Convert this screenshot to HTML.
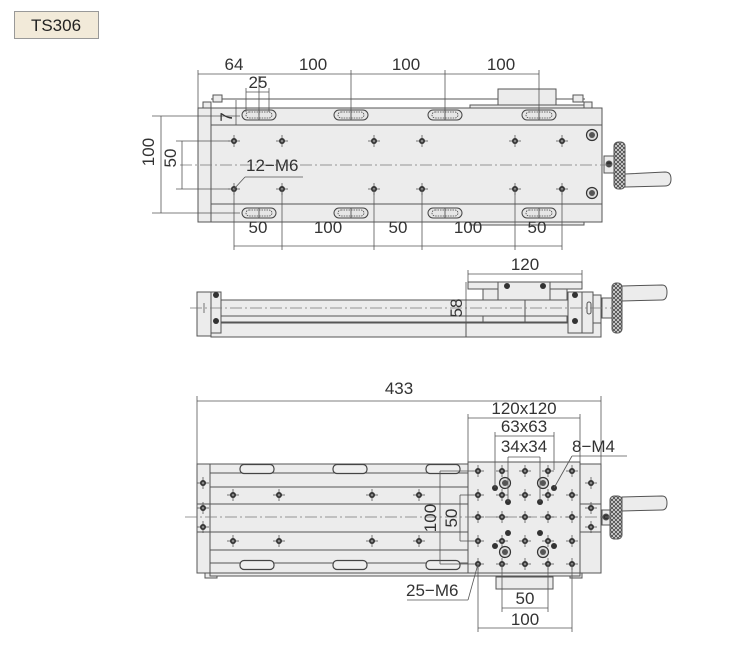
<!DOCTYPE html>
<html><head><meta charset="utf-8"><style>
html,body{margin:0;padding:0;background:#fff;}
svg{display:block;}
text{font-family:"Liberation Sans",sans-serif;fill:#333;font-size:17px;}
</style></head><body>
<svg width="754" height="649" viewBox="0 0 754 649" xmlns="http://www.w3.org/2000/svg">
<defs>
<g id="h"><line x1="-6" y1="0" x2="6" y2="0" stroke="#555" stroke-width="0.8"/><line x1="0" y1="-6" x2="0" y2="6" stroke="#555" stroke-width="0.8"/><circle r="3" fill="#333"/><circle r="1.3" fill="#888"/></g>
<g id="m4"><circle r="3" fill="#333"/></g>
<g id="bh"><circle r="5.5" fill="#ddd" stroke="#333" stroke-width="1.2"/><circle r="3" fill="#555"/></g>
<g id="slot"><rect x="-17" y="-5" width="34" height="10" rx="5" fill="#e6e6e6" stroke="#444" stroke-width="1"/><rect x="-13" y="-3" width="26" height="6" rx="3" fill="none" stroke="#444" stroke-width="0.8" stroke-dasharray="1.5 1"/><line x1="0" y1="-5" x2="0" y2="5" stroke="#444" stroke-width="0.8"/></g>
<g id="slot2"><rect x="-17" y="-4.5" width="34" height="9" rx="4" fill="#eee" stroke="#444" stroke-width="1.2"/></g>
<pattern id="knurl" width="4" height="4" patternUnits="userSpaceOnUse"><rect width="4" height="4" fill="#ddd"/><path d="M0 0L4 4M4 0L0 4" stroke="#444" stroke-width="0.8"/></pattern>
</defs>

<rect x="14.5" y="11.5" width="84" height="27" fill="#f2ead9" stroke="#999"/>
<text x="56" y="31" text-anchor="middle" font-size="16" style="fill:#222">TS306</text>

<g stroke="#555" stroke-width="1" fill="#ececec">
<line x1="211" y1="99" x2="585" y2="99"/>
<rect x="213" y="95" width="9" height="7"/>
<rect x="573" y="95" width="10" height="7"/>
<rect x="203" y="102" width="8" height="6"/>
<rect x="584" y="102" width="8" height="6"/>
<rect x="498" y="89" width="58" height="16"/>
<rect x="470" y="105" width="114" height="3"/>
<rect x="470" y="222" width="114" height="3"/>
<rect x="198" y="108" width="404" height="114"/>
<line x1="211" y1="108" x2="211" y2="222"/>
<line x1="211" y1="125" x2="602" y2="125"/>
<line x1="211" y1="204" x2="602" y2="204"/>
<rect x="604" y="156" width="10" height="17"/>
<circle cx="609" cy="164" r="3" fill="#333"/>
<path d="M625 174 L665 172 Q671 172 671 179 Q671 186 665 186 L625 187 Z"/>
<rect x="614" y="142" width="11" height="47" rx="4" fill="url(#knurl)"/>
</g>
<line x1="180" y1="165" x2="612" y2="165" stroke="#777" stroke-width="0.8" stroke-dasharray="12 3 2 3"/>
<g>
<use href="#slot" x="259" y="115"/><use href="#slot" x="351" y="115"/><use href="#slot" x="445" y="115"/><use href="#slot" x="539" y="115"/>
<use href="#slot" x="259" y="213"/><use href="#slot" x="351" y="213"/><use href="#slot" x="445" y="213"/><use href="#slot" x="539" y="213"/>
<use href="#h" x="234" y="141"/><use href="#h" x="282" y="141"/><use href="#h" x="374" y="141"/><use href="#h" x="422" y="141"/><use href="#h" x="515" y="141"/><use href="#h" x="562" y="141"/>
<use href="#h" x="234" y="189"/><use href="#h" x="282" y="189"/><use href="#h" x="374" y="189"/><use href="#h" x="422" y="189"/><use href="#h" x="515" y="189"/><use href="#h" x="562" y="189"/>
<use href="#bh" x="592" y="135"/><use href="#bh" x="592" y="193"/>
</g>
<g stroke="#555" stroke-width="0.8" fill="none">
<line x1="198" y1="74" x2="539" y2="74"/>
<line x1="198" y1="70" x2="198" y2="108"/>
<line x1="351" y1="70" x2="351" y2="120"/>
<line x1="445" y1="70" x2="445" y2="120"/>
<line x1="539" y1="70" x2="539" y2="120"/>
<line x1="246" y1="92" x2="269" y2="92"/>
<line x1="246" y1="88" x2="246" y2="112"/>
<line x1="269" y1="88" x2="269" y2="112"/>
<line x1="259" y1="76" x2="259" y2="115"/>
<line x1="236" y1="100" x2="236" y2="125"/>
<line x1="161" y1="116" x2="161" y2="213"/>
<line x1="152" y1="116" x2="240" y2="116"/>
<line x1="152" y1="213" x2="240" y2="213"/>
<line x1="182" y1="141" x2="182" y2="189"/>
<line x1="176" y1="141" x2="230" y2="141"/>
<line x1="176" y1="189" x2="230" y2="189"/>
<line x1="245" y1="177" x2="303" y2="177"/>
<line x1="245" y1="177" x2="234" y2="189"/>
<line x1="234" y1="189" x2="234" y2="250"/>
<line x1="282" y1="189" x2="282" y2="250"/>
<line x1="374" y1="189" x2="374" y2="250"/>
<line x1="422" y1="189" x2="422" y2="250"/>
<line x1="515" y1="189" x2="515" y2="250"/>
<line x1="562" y1="189" x2="562" y2="250"/>
<line x1="234" y1="246" x2="562" y2="246"/>
</g>
<text x="234" y="70" text-anchor="middle">64</text>
<text x="313" y="70" text-anchor="middle">100</text>
<text x="406" y="70" text-anchor="middle">100</text>
<text x="501" y="70" text-anchor="middle">100</text>
<text x="258" y="88" text-anchor="middle">25</text>
<text transform="translate(232,117) rotate(-90)" text-anchor="middle">7</text>
<text transform="translate(154,152) rotate(-90)" text-anchor="middle">100</text>
<text transform="translate(176,158) rotate(-90)" text-anchor="middle">50</text>
<text x="246" y="171">12−M6</text>
<text x="258" y="233" text-anchor="middle">50</text>
<text x="328" y="233" text-anchor="middle">100</text>
<text x="398" y="233" text-anchor="middle">50</text>
<text x="468" y="233" text-anchor="middle">100</text>
<text x="537" y="233" text-anchor="middle">50</text>

<g stroke="#555" stroke-width="1" fill="#ececec">
<rect x="197" y="292" width="14" height="44"/>
<rect x="211" y="323" width="390" height="14"/>
<line x1="466" y1="323" x2="466" y2="337"/>
<rect x="211" y="292" width="10" height="41"/>
<rect x="221" y="300" width="347" height="22"/>
<line x1="221" y1="316" x2="568" y2="316"/>
<rect x="483" y="289" width="84" height="11"/>
<rect x="483" y="316" width="84" height="6"/>
<rect x="498" y="282" width="52" height="18"/>
<line x1="525" y1="282" x2="525" y2="322"/>
<rect x="468" y="282" width="114" height="7"/>
<rect x="498" y="282" width="52" height="18"/>
<rect x="568" y="292" width="14" height="41"/>
<rect x="582" y="292" width="11" height="41"/>
<rect x="593" y="295" width="8" height="28"/>
<rect x="587" y="302" width="4" height="12" rx="2"/>
<rect x="602" y="298" width="10" height="20"/>
<path d="M622 286 L662 285 Q667 285 667 292 Q667 300 662 300 L622 301 Z"/>
<rect x="612" y="283" width="10" height="50" rx="4" fill="url(#knurl)"/>
</g>
<line x1="190" y1="308" x2="612" y2="308" stroke="#777" stroke-width="0.8" stroke-dasharray="12 3 2 3"/>
<line x1="204" y1="303" x2="204" y2="313" stroke="#555" stroke-width="0.8"/>
<use href="#m4" x="216" y="295"/><use href="#m4" x="216" y="321"/>
<use href="#m4" x="575" y="295"/><use href="#m4" x="575" y="321"/>
<use href="#m4" x="507" y="286"/><use href="#m4" x="543" y="286"/>
<g stroke="#555" stroke-width="0.8">
<line x1="468" y1="274" x2="582" y2="274"/>
<line x1="468" y1="270" x2="468" y2="282"/>
<line x1="582" y1="270" x2="582" y2="282"/>
<line x1="466" y1="282" x2="466" y2="337"/>
</g>
<text x="525" y="270" text-anchor="middle">120</text>
<text transform="translate(462,308) rotate(-90)" text-anchor="middle">58</text>

<g stroke="#555" stroke-width="1" fill="#ececec">
<rect x="205" y="573" width="12" height="5"/>
<rect x="570" y="573" width="12" height="5"/>
<rect x="210" y="573" width="370" height="3"/>
<rect x="496" y="577" width="57" height="12"/>
<rect x="197" y="464" width="404" height="109"/>
<line x1="210" y1="464" x2="210" y2="573"/>
<line x1="580" y1="464" x2="580" y2="573"/>
<line x1="210" y1="473" x2="468" y2="473"/>
<line x1="210" y1="487" x2="468" y2="487"/>
<line x1="197" y1="504" x2="468" y2="504"/>
<line x1="197" y1="532" x2="468" y2="532"/>
<line x1="210" y1="550" x2="468" y2="550"/>
<line x1="210" y1="563" x2="468" y2="563"/>
<line x1="580" y1="504" x2="601" y2="504"/>
<line x1="580" y1="532" x2="601" y2="532"/>
<rect x="468" y="462" width="112" height="111"/>
<rect x="602" y="510" width="8" height="15"/>
<circle cx="606" cy="517" r="3" fill="#333"/>
<path d="M622 497 L662 496 Q667 496 667 503 Q667 510 662 510 L622 511 Z"/>
<rect x="610" y="496" width="12" height="43" rx="4" fill="url(#knurl)"/>
</g>
<line x1="185" y1="517" x2="612" y2="517" stroke="#777" stroke-width="0.8" stroke-dasharray="12 3 2 3"/>
<g>
<use href="#slot2" x="257" y="469"/><use href="#slot2" x="350" y="469"/><use href="#slot2" x="443" y="469"/>
<use href="#slot2" x="257" y="565"/><use href="#slot2" x="350" y="565"/><use href="#slot2" x="443" y="565"/>
<use href="#h" x="233" y="495"/><use href="#h" x="279" y="495"/><use href="#h" x="372" y="495"/><use href="#h" x="419" y="495"/>
<use href="#h" x="233" y="541"/><use href="#h" x="279" y="541"/><use href="#h" x="372" y="541"/><use href="#h" x="419" y="541"/>
<use href="#h" x="203" y="483"/><use href="#h" x="203" y="508"/><use href="#h" x="203" y="527"/>
<use href="#h" x="591" y="483"/><use href="#h" x="591" y="508"/><use href="#h" x="591" y="527"/>
<use href="#h" x="478" y="471"/><use href="#h" x="502" y="471"/><use href="#h" x="525" y="471"/><use href="#h" x="548" y="471"/><use href="#h" x="572" y="471"/>
<use href="#h" x="478" y="495"/><use href="#h" x="502" y="495"/><use href="#h" x="525" y="495"/><use href="#h" x="548" y="495"/><use href="#h" x="572" y="495"/>
<use href="#h" x="478" y="517"/><use href="#h" x="502" y="517"/><use href="#h" x="525" y="517"/><use href="#h" x="548" y="517"/><use href="#h" x="572" y="517"/>
<use href="#h" x="478" y="541"/><use href="#h" x="502" y="541"/><use href="#h" x="525" y="541"/><use href="#h" x="548" y="541"/><use href="#h" x="572" y="541"/>
<use href="#h" x="478" y="564"/><use href="#h" x="502" y="564"/><use href="#h" x="525" y="564"/><use href="#h" x="548" y="564"/><use href="#h" x="572" y="564"/>
<use href="#bh" x="505" y="483"/><use href="#bh" x="543" y="483"/><use href="#bh" x="505" y="552"/><use href="#bh" x="543" y="552"/>
<use href="#m4" x="495" y="488"/><use href="#m4" x="508" y="502"/><use href="#m4" x="540" y="502"/><use href="#m4" x="554" y="488"/>
<use href="#m4" x="508" y="533"/><use href="#m4" x="540" y="533"/><use href="#m4" x="495" y="546"/><use href="#m4" x="554" y="546"/>
</g>
<g stroke="#555" stroke-width="0.8">
<line x1="197" y1="401" x2="601" y2="401"/>
<line x1="197" y1="396" x2="197" y2="464"/>
<line x1="601" y1="396" x2="601" y2="464"/>
<line x1="468" y1="418" x2="580" y2="418"/>
<line x1="468" y1="414" x2="468" y2="462"/>
<line x1="580" y1="414" x2="580" y2="462"/>
<line x1="495" y1="436" x2="554" y2="436"/>
<line x1="495" y1="432" x2="495" y2="488"/>
<line x1="554" y1="432" x2="554" y2="470"/>
<line x1="508" y1="457" x2="540" y2="457"/>
<line x1="508" y1="457" x2="508" y2="502"/>
<line x1="540" y1="457" x2="540" y2="502"/>
<line x1="572" y1="456" x2="627" y2="456"/>
<line x1="572" y1="456" x2="554" y2="488"/>
<line x1="440" y1="471" x2="440" y2="564"/>
<line x1="440" y1="471" x2="472" y2="471"/>
<line x1="440" y1="564" x2="472" y2="564"/>
<line x1="460" y1="495" x2="460" y2="541"/>
<line x1="460" y1="495" x2="472" y2="495"/>
<line x1="460" y1="541" x2="472" y2="541"/>
<line x1="407" y1="600" x2="468" y2="600"/>
<line x1="468" y1="600" x2="478" y2="564"/>
<line x1="502" y1="564" x2="502" y2="612"/>
<line x1="548" y1="564" x2="548" y2="612"/>
<line x1="502" y1="608" x2="548" y2="608"/>
<line x1="478" y1="564" x2="478" y2="632"/>
<line x1="572" y1="564" x2="572" y2="632"/>
<line x1="478" y1="628" x2="572" y2="628"/>
</g>
<text x="399" y="394" text-anchor="middle">433</text>
<text x="524" y="414" text-anchor="middle">120x120</text>
<text x="524" y="432" text-anchor="middle">63x63</text>
<text x="524" y="452" text-anchor="middle">34x34</text>
<text x="572" y="452">8−M4</text>
<text transform="translate(436,518) rotate(-90)" text-anchor="middle">100</text>
<text transform="translate(457,518) rotate(-90)" text-anchor="middle">50</text>
<text x="406" y="596">25−M6</text>
<text x="525" y="604" text-anchor="middle">50</text>
<text x="525" y="625" text-anchor="middle">100</text>
</svg>
</body></html>
